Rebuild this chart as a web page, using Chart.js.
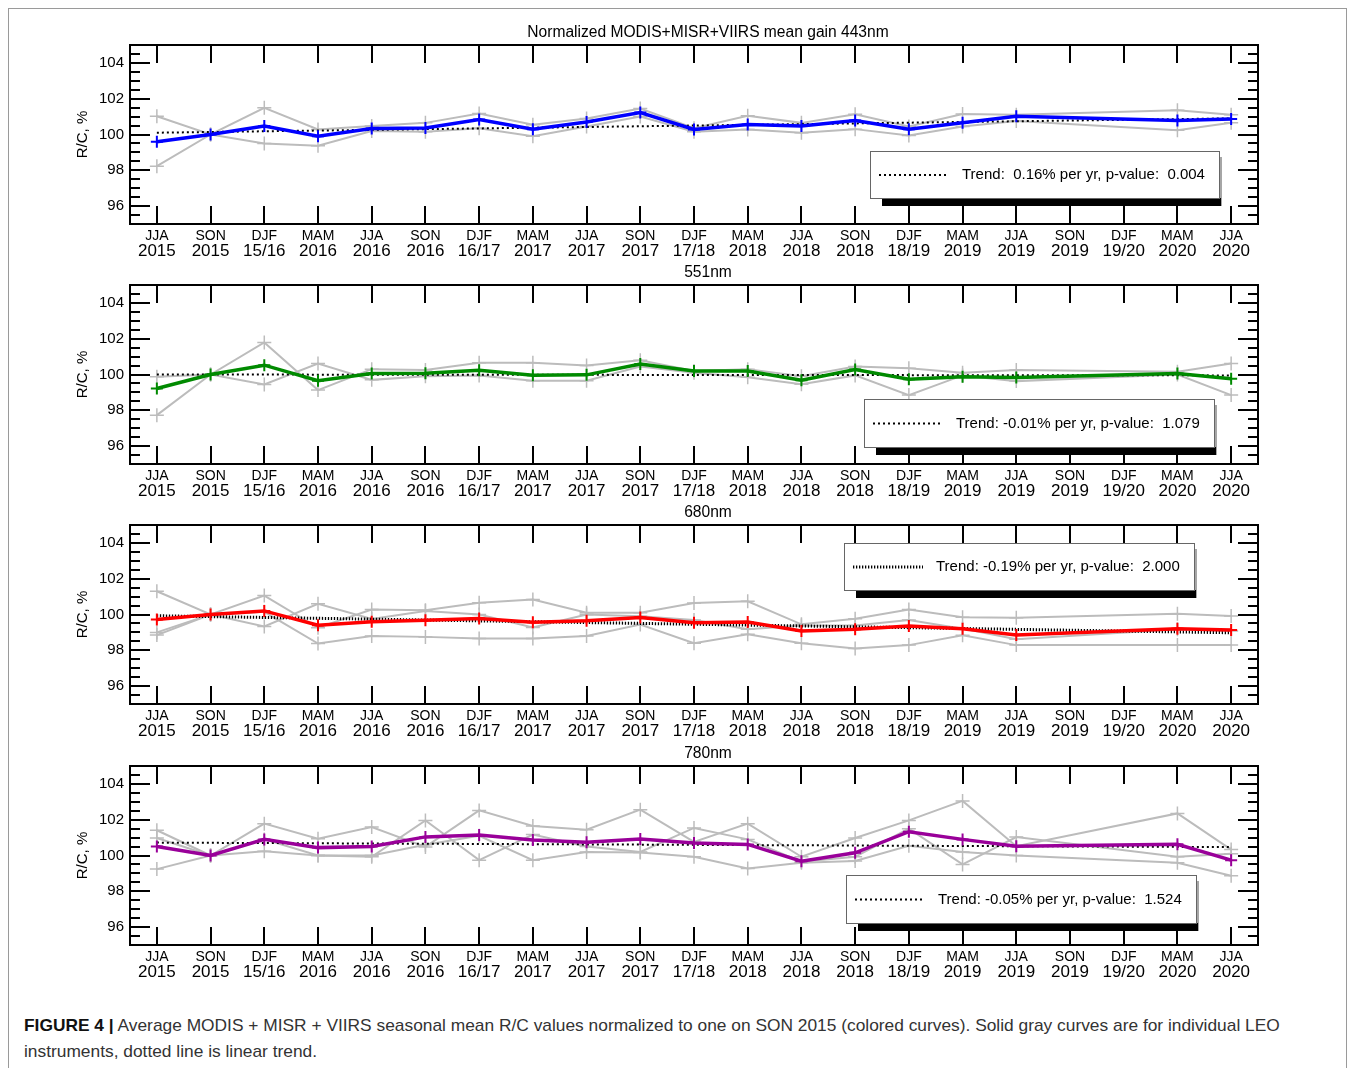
<!DOCTYPE html>
<html>
<head>
<meta charset="utf-8">
<script src="https://cdn.jsdelivr.net/npm/chart.js@4.4.1/dist/chart.umd.min.js"></script>
<style>
  html, body { margin: 0; padding: 0; background: #fff; width: 1354px; height: 1068px; overflow: hidden;
    font-family: "Liberation Sans", Arial, Helvetica, sans-serif; }
  #border { position: absolute; left: 8px; top: 8px; width: 1337px; height: 1090px; border: 1px solid #9a9a9a; }
  canvas.panel { position: absolute; left: 0; }
  #caption { position: absolute; left: 24px; top: 1012px; width: 1320px; font-size: 17.35px; line-height: 26px; color: #333; }
  #caption b { color: #111; }
</style>
</head>
<body>
<div id="border"></div>
<canvas class="panel" id="p0" width="1354" height="250"></canvas>
<canvas class="panel" id="p1" width="1354" height="250"></canvas>
<canvas class="panel" id="p2" width="1354" height="250"></canvas>
<canvas class="panel" id="p3" width="1354" height="250"></canvas>
<div id="caption"><b>FIGURE 4 |</b> Average MODIS + MISR + VIIRS seasonal mean R/C values normalized to one on SON 2015 (colored curves). Solid gray curves are for individual LEO<br>instruments, dotted line is linear trend.</div>

<script>
// Season axis: season name and year line of each tick
const seasons = ['JJA','SON','DJF','MAM','JJA','SON','DJF','MAM','JJA','SON','DJF','MAM',
                 'JJA','SON','DJF','MAM','JJA','SON','DJF','MAM','JJA'];
const years = ['2015','2015','15/16','2016','2016','2016','16/17','2017','2017','2017','17/18','2018',
               '2018','2018','18/19','2019','2019','2019','19/20','2020','2020'];

const panelTitles = ['Normalized MODIS+MISR+VIIRS mean gain 443nm', '551nm', '680nm', '780nm'];

// Mean normalized R/C (%) per season; SON 2019 and DJF 19/20 have no data
const mean443 = [99.6, 100.0, 100.47, 99.9, 100.33, 100.37, 100.84, 100.3, 100.7, 101.23, 100.28, 100.56,
                 100.47, 100.78, 100.3, 100.66, 101.02, null, null, 100.78, 100.86];
const mean551 = [99.22, 100.0, 100.52, 99.65, 100.06, 100.07, 100.24, 99.96, 99.98, 100.58, 100.19, 100.19,
                 99.68, 100.28, 99.74, 99.87, 99.83, null, null, 100.06, 99.76];
const mean680 = [99.72, 100.0, 100.2, 99.4, 99.59, 99.68, 99.78, 99.57, 99.65, 99.83, 99.54, 99.58,
                 99.08, 99.17, 99.36, 99.21, 98.86, null, null, 99.21, 99.14];
const mean780 = [100.5, 100.0, 100.9, 100.44, 100.5, 101.04, 101.14, 100.87, 100.74, 100.92, 100.7, 100.62,
                 99.68, 100.15, 101.33, 100.9, 100.52, null, null, 100.63, 99.74];

// Individual instrument curves
const inst443a = [101.02, 100.0, 101.49, 100.28, 100.48, 100.65, 101.17, 100.55, 100.9, 101.45, 100.35, 101.05,
                  100.65, 101.13, 100.45, 101.15, 101.1, null, null, 101.36, 101.1];
const inst443b = [98.23, 100.0, 99.5, 99.37, 100.2, 100.15, 100.35, 99.9, 100.45, 101.0, 100.15, 100.28,
                  100.1, 100.3, 99.95, 100.45, 100.75, null, null, 100.24, 100.65];

const inst551a = [99.87, 100.0, 101.79, 99.13, 100.3, 100.25, 100.65, 100.65, 100.5, 100.8, 100.2, 100.3,
                  99.9, 100.45, 100.35, 100.1, 100.25, null, null, 100.15, 100.61];
const inst551b = [97.73, 100.0, 99.44, 100.61, 99.7, 99.9, 99.95, 99.65, 99.65, 100.45, 100.1, 99.85,
                  99.45, 99.95, 98.85, 99.95, 99.63, null, null, 100.0, 98.85];

const inst680a = [101.3, 100.0, 101.06, 99.26, 100.28, 100.24, 100.65, 100.84, 100.1, 100.1, 100.64, 100.74,
                  99.45, 99.76, 100.28, 99.85, 99.82, null, null, 100.04, 99.91];
const inst680b = [99.0, 100.0, 99.33, 100.6, 99.75, 100.19, 100.0, 99.27, 100.0, 99.9, 99.69, 99.17,
                  99.39, 99.39, 99.69, 99.21, 98.62, null, null, 99.17, 99.08];
const inst680c = [98.85, 100.0, 100.15, 98.38, 98.8, 98.75, 98.66, 98.66, 98.8, 99.44, 98.4, 98.9,
                  98.4, 98.1, 98.29, 98.84, 98.29, null, null, 98.29, 98.29];

const inst780a = [101.41, 100.0, 101.78, 100.94, 101.59, 100.48, 102.52, 101.65, 101.44, 102.56, 100.76, 101.78,
                  99.93, 100.98, 101.96, 103.05, 100.52, null, null, 102.35, 100.33];
const inst780b = [100.98, 100.0, 100.9, 100.0, 99.93, 101.96, 99.74, 101.17, 100.5, 100.2, 101.54, 100.9,
                  99.65, 99.93, 101.5, 99.5, 101.03, null, null, 99.93, 100.1];
const inst780c = [99.24, 100.0, 100.24, 100.0, 100.0, 100.6, 101.1, 99.74, 100.2, 100.17, 99.93, 99.28,
                  99.6, 99.69, 100.54, 100.2, 100.0, null, null, 99.6, 98.87];

// Linear trend: value at JJA 2015, slope in % per year, and p-value text
const trendStart = [100.1, 100.0, 99.93, 100.72];
const trendSlope = [0.16, -0.01, -0.19, -0.05];
const trendP = ['0.004', '1.079', '2.000', '1.524'];

// Y axis range and tick labels
const yMin = 95, yMax = 105;
const yTickLabels = ['96', '98', '100', '102', '104'];

// ---------- drawing setup ----------
const FONT = '"Liberation Sans", Arial, Helvetica, sans-serif';
const frameTops = [45, 285, 525, 766];
const CANVAS_H = 250, TOP_PAD = 32, FRAME_H = 179;
const GRAY = '#bcbcbc';

const panels = [
  { means: mean443, insts: [inst443a, inst443b], color: '#0000ff',
    legend: { x: 870, dy: 106, w: 349, h: 47 }, dash: [2, 3], dashW: 2 },
  { means: mean551, insts: [inst551a, inst551b], color: '#008a00',
    legend: { x: 864, dy: 114, w: 350, h: 48 }, dash: [2, 3], dashW: 2 },
  { means: mean680, insts: [inst680a, inst680b, inst680c], color: '#ff0000',
    legend: { x: 844, dy: 18, w: 350, h: 47 }, dash: [1.3, 1.7], dashW: 3 },
  { means: mean780, insts: [inst780a, inst780b, inst780c], color: '#990099',
    legend: { x: 846, dy: 109, w: 350, h: 48 }, dash: [2, 3], dashW: 2 }
];

function trendLabel(k) {
  const s = trendSlope[k];
  return 'Trend: ' + (s >= 0 ? ' ' : '') + s.toFixed(2) + '% per yr, p-value:  ' + trendP[k];
}

// Frame, inward ticks, two-line season labels, panel title and trend legend
const panelDecor = {
  id: 'panelDecor',
  afterDatasetsDraw(chart, args, opts) {
    const { ctx, chartArea: a, scales: { x, y } } = chart;
    ctx.save();
    ctx.strokeStyle = '#000';
    ctx.lineWidth = 2;
    ctx.strokeRect(a.left, a.top, a.right - a.left, a.bottom - a.top);
    ctx.beginPath();
    for (let i = 0; i < seasons.length; i++) {
      const px = Math.round(x.getPixelForValue(i));
      ctx.moveTo(px, a.top); ctx.lineTo(px, a.top + 18);
      ctx.moveTo(px, a.bottom); ctx.lineTo(px, a.bottom - 18);
    }
    for (let v = yMin; v <= yMax + 1e-9; v += 0.5) {
      const py = Math.round(y.getPixelForValue(v));
      const len = yTickLabels.includes(String(v)) ? 20 : 10;
      ctx.moveTo(a.left, py); ctx.lineTo(a.left + len, py);
      ctx.moveTo(a.right, py); ctx.lineTo(a.right - len, py);
    }
    ctx.stroke();

    // season / year labels
    ctx.fillStyle = '#000';
    ctx.textAlign = 'center';
    ctx.textBaseline = 'middle';
    for (let i = 0; i < seasons.length; i++) {
      const px = x.getPixelForValue(i);
      ctx.font = '14px ' + FONT;
      ctx.fillText(seasons[i], px, a.bottom + 12);
      ctx.font = '17px ' + FONT;
      ctx.fillText(years[i], px, a.bottom + 27);
    }

    // panel title
    ctx.font = '15.6px ' + FONT;
    ctx.fillText(opts.title, 708, a.top - 12.5);

    // trend legend with drop shadow
    const L = opts.legend;
    const bx = L.x, by = a.top + L.dy;
    ctx.fillStyle = 'rgba(0,0,0,0.35)';
    ctx.fillRect(bx + L.w, by + 6, 3, L.h + 2);
    ctx.fillStyle = '#000';
    ctx.fillRect(bx + 12, by + L.h, L.w - 10, 8);
    ctx.fillStyle = '#fff';
    ctx.fillRect(bx, by, L.w, L.h);
    ctx.strokeStyle = '#666';
    ctx.lineWidth = 1;
    ctx.strokeRect(bx + 0.5, by + 0.5, L.w, L.h);
    const cy = by + L.h / 2 + 0.5;
    ctx.strokeStyle = '#000';
    ctx.lineWidth = opts.dashW;
    ctx.setLineDash(opts.dash);
    ctx.beginPath();
    ctx.moveTo(bx + 9, cy); ctx.lineTo(bx + 79, cy);
    ctx.stroke();
    ctx.setLineDash([]);
    ctx.fillStyle = '#000';
    ctx.textAlign = 'left';
    ctx.font = '15px ' + FONT;
    ctx.fillText(opts.label, bx + 92, cy);
    ctx.restore();
  }
};

panels.forEach((p, k) => {
  const canvas = document.getElementById('p' + k);
  canvas.style.top = (frameTops[k] - TOP_PAD) + 'px';

  const n = seasons.length;
  const trend = new Array(n).fill(null);
  trend[0] = trendStart[k];
  trend[n - 1] = trendStart[k] + trendSlope[k] * (n - 1) / 4;

  const datasets = [];
  p.insts.forEach(d => datasets.push({
    data: d, borderColor: GRAY, backgroundColor: GRAY, borderWidth: 2,
    pointStyle: 'cross', pointRadius: 7, pointBorderWidth: 1.5, pointBorderColor: GRAY,
    spanGaps: true, tension: 0, order: 3
  }));
  datasets.push({
    data: trend, borderColor: '#000', borderWidth: p.dashW, borderDash: p.dash,
    pointRadius: 0, spanGaps: true, order: 2
  });
  datasets.push({
    data: p.means, borderColor: p.color, backgroundColor: p.color, borderWidth: 3.5,
    pointStyle: 'cross', pointRadius: 6, pointBorderWidth: 2, pointBorderColor: p.color,
    spanGaps: true, tension: 0, order: 1
  });

  new Chart(canvas, {
    type: 'line',
    data: { labels: seasons.map((s, i) => [s, years[i]]), datasets },
    options: {
      responsive: false,
      animation: false,
      devicePixelRatio: 1,
      layout: { padding: { left: 70, right: 1354 - 1258, top: TOP_PAD, bottom: CANVAS_H - TOP_PAD - FRAME_H } },
      plugins: {
        legend: { display: false },
        tooltip: { enabled: false },
        panelDecor: { title: panelTitles[k], legend: p.legend, label: trendLabel(k), dash: p.dash, dashW: p.dashW }
      },
      scales: {
        x: { type: 'category', offset: true, display: false },
        y: {
          min: yMin, max: yMax,
          grid: { display: false, drawTicks: false },
          border: { display: false },
          ticks: {
            stepSize: 1, autoSkip: false, padding: 6, color: '#000',
            font: { family: FONT, size: 15 },
            callback: v => yTickLabels.includes(String(v)) ? String(v) : ''
          },
          title: { display: true, text: 'R/C, %', color: '#000', font: { family: FONT, size: 15 }, padding: { top: 4, bottom: 0 } },
          afterFit: s => { s.width = 60; }
        }
      }
    },
    plugins: [panelDecor]
  });
});
</script>
</body>
</html>
